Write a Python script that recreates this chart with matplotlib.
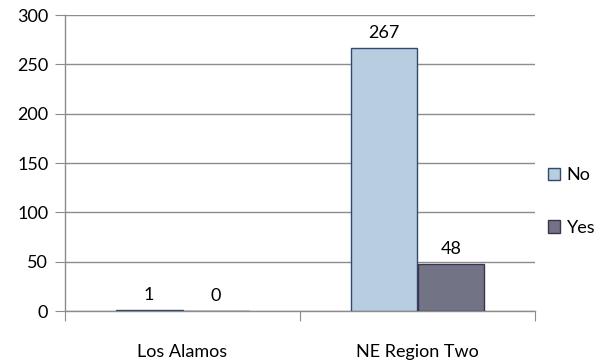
import matplotlib
matplotlib.use("Agg")
import matplotlib.pyplot as plt
import numpy as np

categories = ["Los Alamos", "NE Region Two"]
series_names = ["No", "Yes"]
no_values = [1, 267]
yes_values = [0, 48]
yticks = [0, 50, 100, 150, 200, 250, 300]

plt.rcParams['font.family'] = ['Lato', 'DejaVu Sans']
FS = 13

fig = plt.figure(figsize=(5.95, 3.62), dpi=100)
ax = fig.add_axes([65/595, 1-311/362, (535-65)/595, (311-15)/362])

x = np.arange(len(categories))
w = 0.285
colors = ["#B9CDE0", "#737386"]
edges = ["#2E4A6E", "#3F3151"]
for i, (name, vals) in enumerate(zip(series_names, [no_values, yes_values])):
    pos = x + (i - 0.5) * w
    ax.bar(pos, vals, width=w, color=colors[i], edgecolor=edges[i],
           linewidth=1.0, label=name, zorder=3)
    for p, v in zip(pos, vals):
        ax.text(p, v + 7, str(v), ha='center', va='bottom', fontsize=FS, color='black')

ax.set_xlim(-0.5, 1.5)
ax.set_ylim(0, 300)
ax.set_yticks(yticks)
ax.yaxis.grid(True, color='#8c8c8c', linewidth=1.0, zorder=0)
ax.set_axisbelow(True)
for s in ['top', 'right']:
    ax.spines[s].set_visible(False)
for s in ['left', 'bottom']:
    ax.spines[s].set_color('#8c8c8c')
    ax.spines[s].set_linewidth(1.0)
ax.tick_params(axis='y', length=7, color='#8c8c8c', labelsize=FS, pad=5)
ax.set_xticks([-0.5, 0.5, 1.5], minor=False)
ax.set_xticklabels(["", "", ""])
ax.tick_params(axis='x', length=7, color='#8c8c8c')
ax.set_xticks(x, minor=True)
ax.set_xticklabels(categories, minor=True)
ax.tick_params(axis='x', which='minor', length=0, labelsize=FS, pad=24)

leg = ax.legend(loc='center left', bbox_to_anchor=(1.0, 0.37), frameon=False,
                fontsize=FS, handlelength=0.7, handleheight=0.7,
                labelspacing=2.0, handletextpad=0.35, borderaxespad=0.3)

fig.savefig("out.png", dpi=100)
